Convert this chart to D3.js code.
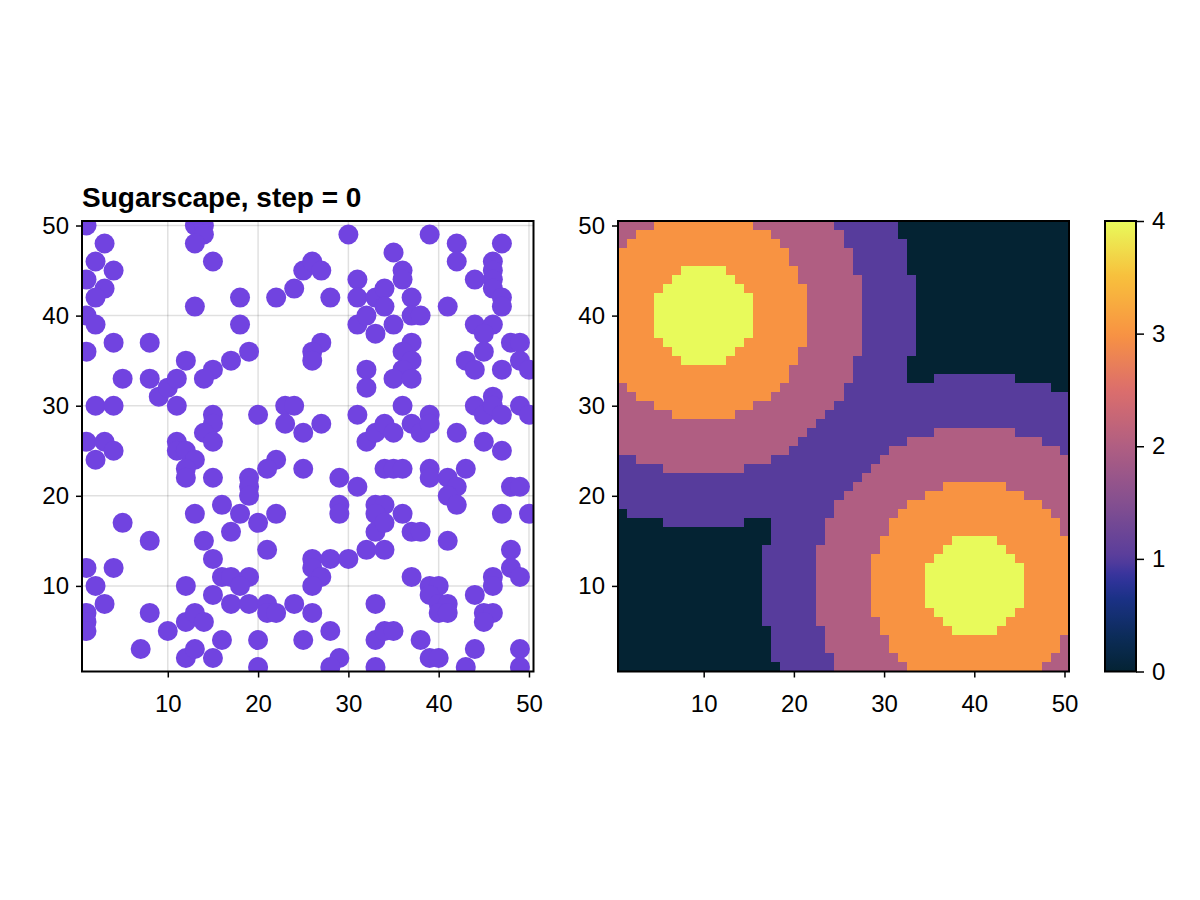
<!DOCTYPE html>
<html><head><meta charset="utf-8">
<script src="https://cdn.jsdelivr.net/npm/d3@7"></script>
<style>
body{margin:0;background:#fff}
svg{display:block}
text{font-family:"Liberation Sans","TeX Gyre Heros",Arial,sans-serif}
</style>
</head><body>
<svg id="chart" width="1200" height="900"></svg>
<script>
// ---------------- DATA ----------------
const titleText = "Sugarscape, step = 0";
const xTicks = [10, 20, 30, 40, 50];
const yTicks = [10, 20, 30, 40, 50];
const colorbarTicks = [0, 1, 2, 3, 4];
const gridDomain = [0.5, 50.5];
const sugarDomain = [0, 4];

// agent positions [x, y]
const agentPositions = [
 [1,50],[3,48],[2,46],[4,45],[1,44],[3,43],[2,42],[1,40],[2,39],[4,37],[8,37],[1,36],
 [13,50],[14,50],[14,49],[13,48],[13,41],[15,46],[12,35],[17,35],[15,34],[14,33],
 [18,42],[18,39],[19,36],[22,42],[24,43],[25,45],[26,46],[27,45],[28,42],[30,49],[31,44],[31,42],
 [27,37],[26,36],[26,35],[31,39],[32,40],[33,38],[32,34],[33,42],[34,43],[34,41],
 [35,47],[36,45],[36,44],[37,42],[37,40],[38,40],[35,39],[39,49],[42,48],[42,46],[47,48],
 [46,46],[46,45],[46,44],[46,43],[44,44],[47,42],[47,41],[41,41],[44,39],[46,39],[45,38],
 [45,36],[43,35],[44,34],[48,37],[49,37],[49,35],[50,34],[47,34],[37,37],[36,36],[37,35],[36,34],
 [5,33],[8,33],[9,31],[10,32],[11,33],[11,30],[2,30],[4,30],[15,29],[15,28],[14,27],[15,26],
 [1,26],[3,26],[4,25],[2,24],[11,26],[11,25],[12,25],[13,24],[12,23],[12,22],[15,22],[16,19],[13,18],
 [32,32],[20,29],[23,30],[24,30],[23,28],[25,27],[27,28],[31,29],[32,26],[33,27],[34,28],
 [22,24],[21,23],[25,23],[19,22],[19,21],[19,20],[29,22],[31,21],[29,19],[29,18],[33,19],
 [34,19],[33,18],[18,18],[20,17],[22,18],
 [35,33],[37,33],[36,30],[35,27],[37,28],[38,27],[39,29],[39,28],[42,27],[44,30],[45,29],
 [46,31],[46,30],[47,29],[49,30],[50,29],[45,26],[47,25],[34,23],[35,23],[36,23],[39,23],
 [39,22],[41,22],[43,23],[42,21],[41,20],[42,19],[48,21],[49,21],[47,18],[50,18],[36,18],
 [5,17],[8,15],[1,12],[4,12],[2,10],[3,8],[1,7],[1,6],[1,5],[8,7],[7,3],[10,5],[12,10],[12,6],
 [13,7],[14,6],[12,2],[13,3],[15,2],[16,4],[14,15],[15,13],[16,11],[17,11],[15,9],[17,8],[17,16],
 [21,14],[26,13],[28,13],[30,13],[26,12],[27,11],[26,10],[32,14],[19,11],[18,10],[19,8],[21,8],
 [21,7],[22,7],[24,8],[26,7],[20,4],[25,4],[28,5],[33,4],[20,1],[29,2],[28,1],[33,1],[33,16],[33,8],
 [34,17],[37,16],[38,16],[34,14],[41,15],[37,11],[39,10],[40,10],[39,9],[40,8],[41,8],[40,7],
 [41,7],[34,5],[35,5],[38,4],[39,2],[40,2],[43,1],[44,3],[44,9],[45,7],[46,7],[45,6],[46,11],
 [46,10],[48,14],[48,12],[49,11],[49,3],[49,1]
];

// sugar capacity per cell, rows from y = 50 (top) down to y = 1, columns x = 1..50
const sugarRows = [
 "2222333333 3333322222 2222111111 1000000000 0000000000", // 50
 "2233333333 3333333222 2222211111 1000000000 0000000000", // 49
 "2333333333 3333333322 2222211111 1100000000 0000000000", // 48
 "3333333333 3333333332 2222221111 1100000000 0000000000", // 47
 "3333333333 3333333332 2222221111 1100000000 0000000000", // 46
 "3333333444 4433333333 2222221111 1100000000 0000000000", // 45
 "3333334444 4443333333 2222222111 1110000000 0000000000", // 44
 "3333344444 4444333333 3222222111 1110000000 0000000000", // 43
 "3333444444 4444433333 3222222111 1110000000 0000000000", // 42
 "3333444444 4444433333 3222222111 1110000000 0000000000", // 41
 "3333444444 4444433333 3222222111 1110000000 0000000000", // 40
 "3333444444 4444433333 3222222111 1110000000 0000000000", // 39
 "3333444444 4444433333 3222222111 1110000000 0000000000", // 38
 "3333344444 4444333333 3222222111 1110000000 0000000000", // 37
 "3333334444 4443333333 2222222111 1110000000 0000000000", // 36
 "3333333444 4433333333 2222221111 1100000000 0000000000", // 35
 "3333333333 3333333332 2222221111 1100000000 0000000000", // 34
 "3333333333 3333333332 2222221111 1100011111 1111000000", // 33
 "2333333333 3333333322 2222211111 1111111111 1111111100", // 32
 "2233333333 3333333222 2222211111 1111111111 1111111111", // 31
 "2222333333 3333322222 2222111111 1111111111 1111111111", // 30
 "2222223333 3332222222 2221111111 1111111111 1111111111", // 29
 "2222222222 2222222222 2211111111 1111111111 1111111111", // 28
 "2222222222 2222222222 2111111111 1111122222 2222111111", // 27
 "2222222222 2222222222 1111111111 1122222222 2222222111", // 26
 "2222222222 2222222221 1111111111 2222222222 2222222221", // 25
 "1122222222 2222222111 1111111112 2222222222 2222222222", // 24
 "1111122222 2222111111 1111111122 2222222222 2222222222", // 23
 "1111111111 1111111111 1111111222 2222222222 2222222222", // 22
 "1111111111 1111111111 1111112222 2222223333 3332222222", // 21
 "1111111111 1111111111 1111122222 2222333333 3333322222", // 20
 "1111111111 1111111111 1111222222 2233333333 3333333222", // 19
 "0111111111 1111111111 1111222222 2333333333 3333333322", // 18
 "0000011111 1111000111 1112222222 3333333333 3333333332", // 17
 "0000000000 0000000111 1112222222 3333333333 3333333332", // 16
 "0000000000 0000000111 1112222223 3333333444 4433333333", // 15
 "0000000000 0000001111 1122222223 3333334444 4443333333", // 14
 "0000000000 0000001111 1122222233 3333344444 4444333333", // 13
 "0000000000 0000001111 1122222233 3333444444 4444433333", // 12
 "0000000000 0000001111 1122222233 3333444444 4444433333", // 11
 "0000000000 0000001111 1122222233 3333444444 4444433333", // 10
 "0000000000 0000001111 1122222233 3333444444 4444433333", // 9
 "0000000000 0000001111 1122222233 3333444444 4444433333", // 8
 "0000000000 0000001111 1122222233 3333344444 4444333333", // 7
 "0000000000 0000001111 1122222223 3333334444 4443333333", // 6
 "0000000000 0000000111 1112222223 3333333444 4433333333", // 5
 "0000000000 0000000111 1112222222 3333333333 3333333332", // 4
 "0000000000 0000000111 1112222222 3333333333 3333333332", // 3
 "0000000000 0000000111 1111222222 2333333333 3333333322", // 2
 "0000000000 0000000011 1111222222 2233333333 3333333222"  // 1
];

// thermal colour map stops (position 0..1)
const thermalStops = [
 [0.00, "#042333"], [0.08, "#0c2c5a"], [0.16, "#1a3185"], [0.21, "#33339d"],
 [0.25, "#573c9c"], [0.375, "#844f90"], [0.50, "#b05e82"], [0.625, "#dc6e6c"],
 [0.75, "#f89342"], [0.875, "#f8bf3c"], [1.00, "#e8fa5b"]
];
const agentColor = "#7143E0";

// ---------------- LAYOUT ----------------
const svg = d3.select("#chart");
const FS = 24;
const leftP  = {x0: 82,  x1: 533.5, y0: 221, y1: 671.5};
const rightP = {x0: 618, x1: 1069,  y0: 221, y1: 671.5};
const cbP    = {x0: 1105, x1: 1136, y0: 221, y1: 671.5};

function scalesFor(p) {
  return {
    x: d3.scaleLinear().domain(gridDomain).range([p.x0, p.x1]),
    y: d3.scaleLinear().domain(gridDomain).range([p.y1, p.y0])
  };
}

const thermal = d3.scaleLinear()
  .domain(thermalStops.map(d => d[0]))
  .range(thermalStops.map(d => d[1]))
  .interpolate(d3.interpolateRgb);
const sugarNorm = d3.scaleLinear().domain(sugarDomain).range([0, 1]);

function styleAxis(g) {
  g.select(".domain").remove();
  g.selectAll(".tick line").attr("stroke", "#000").attr("stroke-width", 1.5);
  g.selectAll(".tick text").attr("fill", "#000").style("font-size", FS + "px");
}

function drawAxes(p, s) {
  svg.append("g").attr("transform", `translate(0,${p.y1})`)
    .call(d3.axisBottom(s.x).tickValues(xTicks).tickSize(6).tickPadding(17).tickFormat(d3.format("d")))
    .call(styleAxis);
  svg.append("g").attr("transform", `translate(${p.x0},0)`)
    .call(d3.axisLeft(s.y).tickValues(yTicks).tickSize(6).tickPadding(7).tickFormat(d3.format("d")))
    .call(styleAxis);
  svg.append("rect")
    .attr("x", p.x0).attr("y", p.y0)
    .attr("width", p.x1 - p.x0).attr("height", p.y1 - p.y0)
    .attr("fill", "none").attr("stroke", "#000").attr("stroke-width", 2);
}

// ---------------- LEFT: agents ----------------
const sL = scalesFor(leftP);
const defs = svg.append("defs");
defs.append("clipPath").attr("id", "clipL").append("rect")
  .attr("x", leftP.x0).attr("y", leftP.y0)
  .attr("width", leftP.x1 - leftP.x0).attr("height", leftP.y1 - leftP.y0);

const gridG = svg.append("g");
gridG.selectAll("line.vx").data(xTicks).join("line")
  .attr("x1", d => sL.x(d)).attr("x2", d => sL.x(d))
  .attr("y1", leftP.y0).attr("y2", leftP.y1)
  .attr("stroke", "rgba(0,0,0,0.12)").attr("stroke-width", 1.5);
gridG.selectAll("line.hy").data(yTicks).join("line")
  .attr("y1", d => sL.y(d)).attr("y2", d => sL.y(d))
  .attr("x1", leftP.x0).attr("x2", leftP.x1)
  .attr("stroke", "rgba(0,0,0,0.12)").attr("stroke-width", 1.5);

svg.append("g").attr("clip-path", "url(#clipL)")
  .selectAll("circle").data(agentPositions).join("circle")
  .attr("cx", d => sL.x(d[0])).attr("cy", d => sL.y(d[1]))
  .attr("r", 10).attr("fill", agentColor);

drawAxes(leftP, sL);

svg.append("text").attr("x", leftP.x0).attr("y", 207)
  .attr("font-weight", "bold").style("font-size", "28px").attr("fill", "#000")
  .text(titleText);

// ---------------- RIGHT: sugar heatmap ----------------
const sR = scalesFor(rightP);
const cells = [];
sugarRows.forEach((row, r) => {
  const digits = row.replace(/\s/g, "");
  const y = 50 - r;
  for (let c = 0; c < digits.length; c++) cells.push({x: c + 1, y: y, v: +digits[c]});
});
svg.append("g").attr("shape-rendering", "crispEdges")
  .selectAll("rect").data(cells).join("rect")
  .attr("x", d => sR.x(d.x - 0.5))
  .attr("y", d => sR.y(d.y + 0.5))
  .attr("width", d => sR.x(d.x + 0.5) - sR.x(d.x - 0.5) + 0.3)
  .attr("height", d => sR.y(d.y - 0.5) - sR.y(d.y + 0.5) + 0.3)
  .attr("fill", d => thermal(sugarNorm(d.v)));
drawAxes(rightP, sR);

// ---------------- COLORBAR ----------------
const grad = defs.append("linearGradient").attr("id", "thermalGrad")
  .attr("x1", "0").attr("y1", "1").attr("x2", "0").attr("y2", "0");
d3.range(0, 1.0001, 0.02).forEach(t => {
  grad.append("stop").attr("offset", t).attr("stop-color", thermal(t));
});
const cbScale = d3.scaleLinear().domain(sugarDomain).range([cbP.y1, cbP.y0]);
svg.append("rect").attr("x", cbP.x0).attr("y", cbP.y0)
  .attr("width", cbP.x1 - cbP.x0).attr("height", cbP.y1 - cbP.y0)
  .attr("fill", "url(#thermalGrad)");
svg.append("g").attr("transform", `translate(${cbP.x1},0)`)
  .call(d3.axisRight(cbScale).tickValues(colorbarTicks).tickSize(8).tickPadding(8).tickFormat(d3.format("d")))
  .call(styleAxis);
svg.append("rect").attr("x", cbP.x0).attr("y", cbP.y0)
  .attr("width", cbP.x1 - cbP.x0).attr("height", cbP.y1 - cbP.y0)
  .attr("fill", "none").attr("stroke", "#000").attr("stroke-width", 2);
</script>
</body></html>
